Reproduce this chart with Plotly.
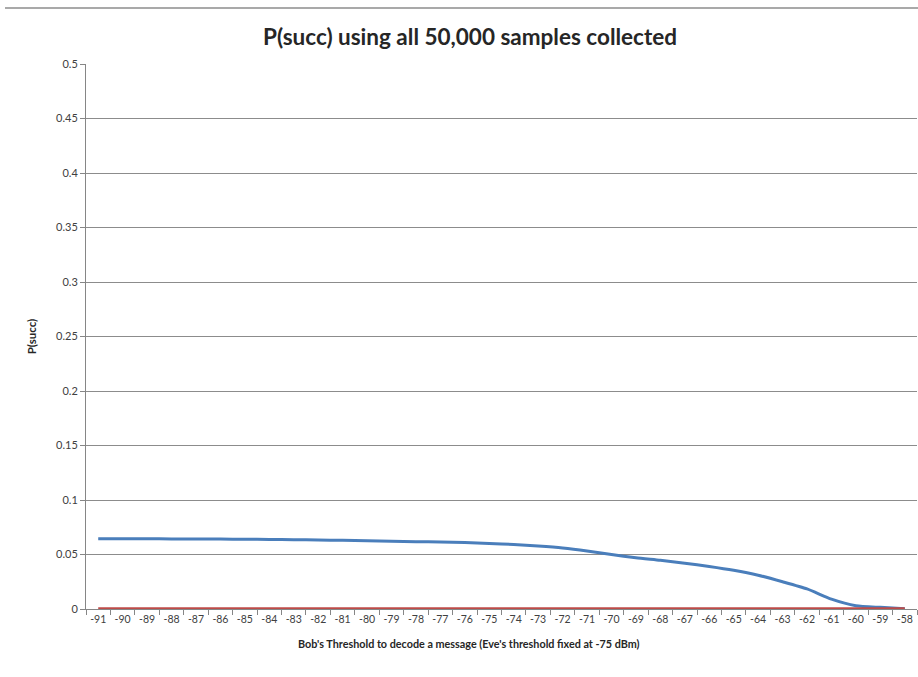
import plotly.graph_objects as go

thresholds = [str(v) for v in range(-91, -57)]
p_succ_bob = [0.0644, 0.0644, 0.0644, 0.0643, 0.0643, 0.0642, 0.0640, 0.0638, 0.0636, 0.0633,
              0.0630, 0.0627, 0.0622, 0.0618, 0.0614, 0.0609, 0.0602, 0.0592, 0.0578, 0.0560,
              0.0533, 0.0500, 0.0470, 0.0447, 0.0420, 0.0390, 0.0355, 0.0310, 0.0250, 0.0184,
              0.0090, 0.0030, 0.0015, 0.0003]
p_succ_eve = [0.0] * len(thresholds)
y_ticks = [0, 0.05, 0.1, 0.15, 0.2, 0.25, 0.3, 0.35, 0.4, 0.45, 0.5]
y_tick_labels = ["0", "0.05", "0.1", "0.15", "0.2", "0.25", "0.3", "0.35", "0.4", "0.45", "0.5"]

FONT = "Lato"

fig = go.Figure()
fig.add_trace(go.Scatter(x=thresholds, y=p_succ_bob, mode="lines",
                         line=dict(color="#4A7EBB", width=3, shape="spline", smoothing=0.6),
                         showlegend=False))
fig.add_trace(go.Scatter(x=thresholds, y=p_succ_eve, mode="lines",
                         line=dict(color="#BE4B48", width=3.5),
                         showlegend=False))

fig.update_layout(
    width=918, height=670,
    margin=dict(l=86, r=1, t=64, b=61, autoexpand=False),
    paper_bgcolor="white", plot_bgcolor="white",
    font=dict(family=FONT, color="#404040", size=11),
    title=dict(text="<b>P(succ) using all 50,000 samples collected</b>",
               x=0.512, xanchor="center", y=1 - 37 / 670, yanchor="middle",
               font=dict(family=FONT, size=22.5, color="#262626"), automargin=False),
    xaxis=dict(type="category", tickson="boundaries", ticks="outside", ticklen=5,
               range=[-0.5, len(thresholds) - 0.5],
               tickcolor="#868686", showline=True, linecolor="#868686", linewidth=1,
               showgrid=False, tickangle=0, automargin=False,
               tickfont=dict(size=10.5, color="#404040")),
    yaxis=dict(range=[0, 0.5], tickvals=y_ticks, ticktext=y_tick_labels,
               ticks="outside", ticklen=5, tickcolor="#868686",
               showline=True, linecolor="#868686", linewidth=1, automargin=False,
               showgrid=True, gridcolor="#8C8C8C", gridwidth=1, zeroline=False,
               tickfont=dict(size=11, color="#404040"),
               title=dict(text="<b>P(succ)</b>", font=dict(size=11.5, color="#262626"), standoff=17)),
)

fig.add_annotation(text="<b>Bob's Threshold to decode a message (Eve's threshold fixed at -75 dBm)</b>",
                   xref="paper", yref="paper", x=0.461, y=-0.0624,
                   xanchor="center", yanchor="middle", showarrow=False,
                   font=dict(family=FONT, size=10.8, color="#262626"))

fig.add_shape(type="line", xref="paper", yref="paper",
              x0=-0.0975, x1=1.002, y0=1 + 56 / 545, y1=1 + 56 / 545,
              line=dict(color="#8C8C8C", width=1.5))

fig.write_html("out.html",
               config={"displayModeBar": False},
               post_script="document.body.style.margin='0';document.body.style.overflow='hidden';")
